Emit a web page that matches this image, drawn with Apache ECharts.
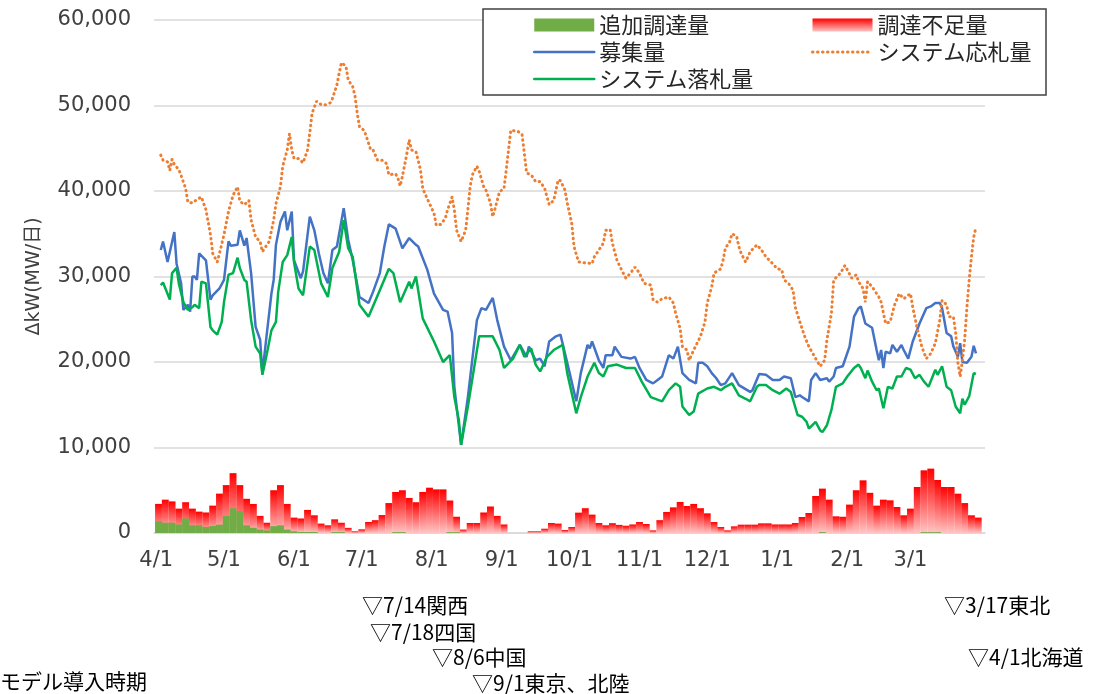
<!DOCTYPE html>
<html>
<head>
<meta charset="utf-8">
<script src="https://cdn.jsdelivr.net/npm/echarts@6/dist/echarts.min.js"></script>
<style>
  html, body { margin: 0; padding: 0; background: #fff; }
  #chart { width: 1098px; height: 694px; }
</style>
</head>
<body>
<div id="chart"></div>
<script>
// x軸: 4/1 からの経過日数
const monthDays = [0, 30, 61, 91, 122, 153, 183, 214, 244, 275, 306, 334]
const monthLabels = ['4/1', '5/1', '6/1', '7/1', '8/1', '9/1', '10/1', '11/1', '12/1', '1/1', '2/1', '3/1']

// 棒グラフは3日ごとの値 (先頭日 0,3,6,...)
const barStep = 3
// 追加調達量
const addVals = [
  1365, 1200, 1200, 1000, 1700, 900, 900, 700, 820, 975,
  2000, 2900, 2570, 900, 600, 400, 300, 800, 900, 400,
  200, 120, 120, 120, 0, 0, 100, 100, 0, 0,
  0, 0, 0, 0, 0, 100, 100, 0, 0, 0,
  0, 0, 0, 100, 100, 0, 0, 0, 0, 0,
  0, 0, 0, 0, 0, 0, 0, 0, 0, 0,
  0, 0, 0, 0, 0, 0, 0, 0, 0, 0,
  0, 0, 0, 0, 0, 0, 0, 0, 0, 0,
  0, 0, 0, 0, 0, 0, 0, 0, 0, 0,
  0, 0, 0, 0, 0, 0, 0, 0, 100, 0,
  0, 0, 0, 0, 0, 0, 0, 0, 0, 0,
  0, 0, 0, 100, 100, 100, 0, 0, 0, 0,
  0, 0
]
// 調達不足量
const shortVals = [
  2040, 2700, 2500, 1850, 1900, 1950, 1600, 1700, 2380, 3630,
  3600, 4100, 3030, 3100, 2800, 1600, 900, 4200, 4700, 3000,
  1600, 1580, 2580, 1950, 1100, 900, 1500, 1100, 600, 200,
  430, 1290, 1500, 2100, 3500, 4700, 4900, 4100, 3600, 4800,
  5300, 5100, 5100, 3700, 1800, 400, 1170, 1170, 2400, 3100,
  2000, 1000, 0, 0, 0, 200, 200, 500, 1170, 1100,
  350, 700, 2380, 2900, 2150, 1170, 900, 1150, 950, 850,
  1000, 1290, 1050, 310, 1500, 2460, 3000, 3630, 3160, 3400,
  2900, 2300, 1290, 700, 310, 780, 975, 975, 975, 1130,
  1130, 1000, 1000, 1000, 1170, 1870, 2340, 4330, 5090, 3900,
  1950, 1900, 3320, 5000, 6160, 4700, 3200, 3900, 3820, 3040,
  2070, 2850, 5380, 7230, 7430, 6100, 5380, 5380, 4600, 3500,
  2070, 1800
]

// 募集量 [日, 値]
const recruitData = [
  [2,33100],[3,34100],[5,31700],[8,35200],[9,31500],[11,29200],[12,26100],[14,26700],[15,25900],[16,30000],
  [17,30000],[18,29600],[19,32700],[22,31900],[24,27300],[25,27800],[28,28600],[30,29600],[32,34100],[33,33600],
  [36,33700],[37,35400],[39,33600],[40,34500],[42,30400],[44,24100],[46,22600],[47,18700],[49,23400],[51,28000],
  [52,29600],[53,33700],[55,36400],[57,37600],[58,35400],[60,37600],[61,31900],[64,29800],[65,30600],[68,37000],
  [70,35400],[72,32700],[74,30400],[76,29200],[78,33100],[80,33500],[83,38000],[85,34300],[87,31900],[90,27600],
  [94,26900],[96,28200],[99,30400],[101,33500],[103,36100],[106,35600],[109,33300],[112,34500],[115,33700],[116,33500],
  [120,30800],[123,28000],[127,26100],[129,25900],[131,23400],[132,17100],[133,14800],[135,10300],[138,15900],[142,24900],
  [144,26300],[146,26100],[149,27500],[151,24900],[154,21800],[157,20200],[161,22000],[164,20600],[165,21800],[168,20200],
  [170,20400],[172,19500],[174,22400],[177,23000],[179,23200],[182,19900],[186,15400],[188,18700],[191,22000],[192,21600],
  [193,22400],[196,20200],[198,19300],[199,20800],[202,20800],[203,21800],[206,20600],[210,20400],[212,20600],[214,19300],
  [217,17900],[220,17500],[222,17900],[224,18300],[227,20800],[229,20400],[231,21800],[233,18700],[236,17900],[239,17500],
  [240,19900],[242,19900],[244,19500],[246,18700],[248,18100],[250,17300],[252,17500],[255,18700],[258,17300],[263,16500],
  [264,16700],[267,18600],[270,18500],[273,17900],[276,17900],[278,18300],[281,18100],[283,15900],[285,16100],[286,15900],
  [289,15400],[290,17900],[292,18700],[294,17900],[297,18100],[298,17700],[300,18300],[301,19300],[304,19500],[307,21800],
  [309,25300],[311,26300],[312,26500],[314,24500],[317,24000],[319,21400],[320,20200],[321,21400],[322,19300],[323,21200],
  [325,21000],[326,22000],[328,21200],[330,22000],[331,21400],[333,20400],[335,22400],[338,24500],[341,26300],[343,26500],
  [345,26900],[347,26900],[348,26300],[350,23400],[352,23000],[353,21800],[355,20600],[356,22200],[357,20000],[359,19900],
  [361,20600],[362,21900],[363,21000]
]

// システム応札量 [日, 値]
const bidData = [
  [2,44200],[3,43600],[5,43400],[6,42400],[7,43700],[8,43100],[10,42500],[11,41800],[13,40300],[14,38700],
  [16,38600],[18,39000],[20,39300],[22,37800],[24,34900],[25,32700],[27,31700],[28,32700],[30,34900],[32,37600],
  [34,39500],[36,40500],[37,38800],[39,38400],[41,38900],[42,36600],[44,34600],[46,34100],[47,32900],[50,34100],
  [52,36600],[53,38500],[55,40500],[56,42900],[58,44800],[59,46700],[60,44800],[61,43800],[63,43800],[65,43300],
  [67,44800],[68,46800],[69,49100],[71,50500],[73,50100],[75,50100],[77,50300],[78,50800],[80,52400],[81,53800],
  [82,55000],[84,54600],[85,53000],[87,52200],[88,51100],[89,49100],[90,47500],[92,47100],[93,46400],[95,44800],
  [96,44800],[98,43600],[100,43600],[102,43200],[103,41900],[106,42000],[107,41500],[108,40600],[109,41700],[111,44400],
  [112,46000],[113,44800],[115,44600],[117,42500],[118,40300],[120,39100],[123,37400],[124,36000],[126,36100],[128,36800],
  [129,37800],[131,39300],[132,37800],[133,35400],[135,34100],[137,35400],[138,37800],[139,40500],[140,41900],[142,42900],
  [143,42300],[145,40500],[146,40100],[148,38600],[149,37000],[150,37900],[152,39900],[154,40300],[155,42500],[156,44800],
  [157,47100],[160,47000],[162,46600],[163,44400],[164,42100],[166,41900],[168,41100],[170,41100],[172,40300],[174,38400],
  [176,38900],[178,41300],[179,41200],[181,40100],[182,38600],[184,36200],[185,33500],[187,31700],[190,31600],[193,31500],
  [194,32300],[196,33100],[198,33900],[199,35400],[201,35500],[202,33900],[204,31900],[206,30800],[208,29800],[210,30400],
  [212,31100],[214,30400],[216,29200],[219,29000],[220,27300],[222,27000],[224,27400],[227,27600],[229,26900],[230,25700],
  [232,23900],[233,21800],[235,21400],[236,20200],[238,21400],[241,23000],[243,24700],[244,26900],[246,28800],[247,30400],
  [250,30900],[251,31900],[252,33300],[254,34100],[255,35000],[257,34700],[258,33500],[259,32700],[261,31700],[263,32900],
  [266,33700],[268,33100],[270,32300],[273,31500],[275,30900],[277,30800],[278,29600],[280,29200],[282,28400],[283,26400],
  [285,24700],[287,23100],[289,21800],[292,20400],[294,19500],[296,20200],[297,22600],[299,25700],[300,29600],[303,30400],
  [305,31300],[306,30800],[308,29800],[310,30200],[311,29400],[313,28600],[314,27000],[315,29400],[317,28800],[320,27600],
  [321,27000],[323,24500],[325,24700],[327,26700],[329,28000],[331,27400],[334,28000],[335,26400],[337,23900],[339,21800],
  [341,20400],[343,21000],[345,22200],[347,24900],[348,27200],[350,26700],[351,25300],[353,25300],[354,23400],[355,19900],
  [356,18300],[357,20200],[358,22600],[359,26400],[360,29600],[361,32300],[362,34600],[363,35800]
]

// システム落札量 [日, 値]
const awardData = [
  [2,29000],[3,29300],[6,27300],[7,30400],[9,31000],[10,29200],[12,27000],[14,26100],[16,26400],[17,26700],
  [19,26300],[20,29400],[22,29200],[24,24100],[25,23700],[27,23200],[29,24700],[30,27000],[32,30200],[34,30400],
  [36,32200],[37,31000],[39,29600],[40,29400],[42,24900],[44,21800],[46,21000],[47,18500],[49,21000],[51,23700],
  [53,24700],[54,28200],[56,31700],[58,32500],[60,34600],[61,31700],[63,28600],[65,27800],[68,33500],[70,33100],
  [73,29200],[76,27600],[78,31000],[81,32900],[83,36600],[85,33300],[87,32300],[90,26700],[94,25300],[99,28400],
  [103,30900],[105,30400],[108,27000],[112,29400],[113,28600],[115,30000],[118,25100],[123,22400],[127,20000],[130,20800],
  [132,15900],[134,13200],[135,10300],[138,14800],[143,23000],[149,23000],[152,21400],[154,19300],[158,20400],[161,22000],
  [163,20600],[166,21600],[168,19700],[170,18900],[173,20600],[176,21400],[180,22000],[182,18700],[186,14000],[188,15900],
  [191,18300],[194,19900],[196,18700],[198,18300],[200,19500],[204,19700],[208,19300],[212,19300],[215,17700],[219,15900],
  [224,15400],[227,16700],[230,17500],[232,17100],[233,14800],[236,13800],[238,14200],[240,16300],[244,16900],[247,17100],
  [250,16700],[252,17100],[255,17500],[258,16100],[261,15700],[263,15400],[266,17100],[267,17300],[270,17300],[273,16700],
  [276,16300],[279,16900],[281,16500],[284,13800],[286,13600],[288,13000],[289,12200],[292,13000],[294,12000],[295,11800],
  [297,12600],[299,14400],[301,17100],[304,17500],[306,18300],[309,19300],[311,19700],[312,19300],[314,18100],[315,19000],
  [317,17700],[319,16700],[320,16900],[322,14600],[324,17100],[326,16900],[328,18300],[330,18300],[332,19300],[334,19100],
  [336,18100],[338,18500],[340,17700],[342,17100],[345,19100],[346,18500],[348,19500],[350,17100],[352,16700],[354,14800],
  [356,14000],[357,15700],[358,15000],[360,16000],[362,18700],[363,18600]
]

// 導入時期の注記
const notes = [
  { text: '▽7/14関西', x: 362, y: 605 },
  { text: '▽7/18四国', x: 370, y: 632 },
  { text: '▽8/6中国', x: 432, y: 657 },
  { text: '▽9/1東京、北陸', x: 472, y: 683 },
  { text: '▽3/17東北', x: 944, y: 605 },
  { text: '▽4/1北海道', x: 968, y: 657 },
  { text: 'モデル導入時期', x: 0, y: 681 }
]

const numFont = '"DejaVu Sans", Verdana, sans-serif'
const jpFont = '"Noto Sans CJK JP", sans-serif'

const chart = echarts.init(document.getElementById('chart'))

const redGrad = new echarts.graphic.LinearGradient(0, 0, 0, 1, [
  { offset: 0, color: '#ff0000' },
  { offset: 1, color: '#ffc4c4' }
])

const barX = addVals.map((v, i) => i * barStep + 1)
// 値軸では積み上げが効かないので、不足量は追加調達量の上に載せた高さで描く
const stackTop = shortVals.map((v, i) => v + addVals[i])

const lineLegend = (name, color, type) => ({
  name,
  itemStyle: { opacity: 0 },
  lineStyle: { color, width: type === 'solid' ? 2.5 : 3, type: type === 'solid' ? 'solid' : [0.5, 4.5], cap: 'round' }
})

const legendText = { fontFamily: jpFont, fontSize: 22, lineHeight: 22, color: '#262626' }

chart.setOption({
  animation: false,
  grid: { left: 154, right: 113, top: 20, bottom: 161 },
  legend: [
    {
      left: 528, top: 9, orient: 'vertical',
      itemWidth: 60, itemHeight: 13, itemGap: 5,
      textStyle: legendText,
      data: [
        { name: '追加調達量', icon: 'rect', itemStyle: { color: '#70ad47' } },
        lineLegend('募集量', '#4472c4', 'solid'),
        lineLegend('システム落札量', '#00b050', 'solid')
      ]
    },
    {
      left: 806, top: 9, orient: 'vertical',
      itemWidth: 60, itemHeight: 13, itemGap: 5,
      textStyle: legendText,
      data: [
        { name: '調達不足量', icon: 'rect', itemStyle: { color: redGrad } },
        lineLegend('システム応札量', '#ed7d31', 'dotted')
      ]
    }
  ],
  xAxis: {
    type: 'value',
    min: -1,
    max: 367,
    splitLine: { show: false },
    axisLine: { show: true, onZero: false, lineStyle: { color: '#d9d9d9', width: 1.5 } },
    axisTick: { show: false },
    axisLabel: {
      customValues: monthDays,
      margin: 17,
      fontFamily: numFont,
      fontSize: 21,
      color: '#404040',
      formatter: v => monthLabels[monthDays.indexOf(v)]
    }
  },
  yAxis: {
    type: 'value',
    min: 0,
    max: 60000,
    interval: 10000,
    name: 'ΔkW(MW/日)',
    nameLocation: 'middle',
    nameGap: 110,
    nameTextStyle: { fontFamily: numFont + ', ' + jpFont, fontSize: 19, color: '#404040' },
    axisLine: { show: false },
    axisTick: { show: false },
    splitLine: { lineStyle: { color: '#d9d9d9', width: 1.5 } },
    axisLabel: {
      margin: 23,
      fontFamily: numFont,
      fontSize: 21,
      color: '#404040',
      formatter: v => v.toLocaleString('en-US')
    }
  },
  graphic: [
    {
      type: 'rect', z: 3,
      shape: { x: 483, y: 9, width: 563, height: 86 },
      style: { fill: '#fff', stroke: '#404040', lineWidth: 1.5 }
    },
    ...notes.map(n => ({
      type: 'text', z: 5, x: n.x, y: n.y,
      style: { text: n.text, font: '21px ' + jpFont, fill: '#000', verticalAlign: 'middle' }
    }))
  ],
  series: [
    {
      name: '調達不足量',
      type: 'bar',
      barWidth: 6.9,
      barGap: '-100%',
      itemStyle: { color: redGrad },
      data: barX.map((x, i) => [x, stackTop[i]])
    },
    {
      name: '追加調達量',
      type: 'bar',
      barWidth: 6.9,
      barGap: '-100%',
      itemStyle: { color: '#70ad47' },
      data: barX.map((x, i) => [x, addVals[i]])
    },
    {
      name: '募集量',
      type: 'line',
      symbol: 'none',
      itemStyle: { color: '#4472c4' },
      lineStyle: { color: '#4472c4', width: 2.5 },
      data: recruitData
    },
    {
      name: 'システム応札量',
      type: 'line',
      symbol: 'none',
      itemStyle: { color: '#ed7d31' },
      lineStyle: { color: '#ed7d31', width: 3, type: [0.5, 4.5], cap: 'round' },
      data: bidData
    },
    {
      name: 'システム落札量',
      type: 'line',
      symbol: 'none',
      itemStyle: { color: '#00b050' },
      lineStyle: { color: '#00b050', width: 2.5 },
      data: awardData
    }
  ]
})
</script>
</body>
</html>
